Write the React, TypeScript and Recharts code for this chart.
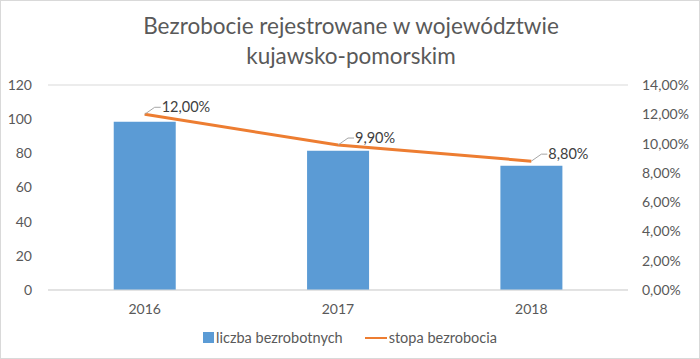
import { ComposedChart, Bar, Line, XAxis, YAxis, CartesianGrid, Legend, LabelList } from 'recharts';

const years = ['2016', '2017', '2018'];
const liczbaBezrobotnych = [98.5, 81.5, 72.8];
const stopaBezrobocia = [12.0, 9.9, 8.8];
const leftTicks = [0, 20, 40, 60, 80, 100, 120];
const rightTicks = [0, 2, 4, 6, 8, 10, 12, 14];

const data = years.map((year, i) => ({
  year,
  liczba: liczbaBezrobotnych[i],
  stopa: stopaBezrobocia[i],
}));

const FONT = 'Lato, "Open Sans", sans-serif';
const TEXT = '#595959';

const pct = (v: number) => v.toFixed(2).replace('.', ',') + '%';

const LineLabel = (props: any) => {
  const { x, y, value } = props;
  return (
    <g>
      <polyline
        points={`${x},${y} ${x + 10},${y - 7} ${x + 16},${y - 7}`}
        fill="none"
        stroke="#a6a6a6"
        strokeWidth={1}
      />
      <text x={x + 17} y={y - 7} dy={5} fill="#404040" fontSize={14.5} fontFamily={FONT}>
        {pct(value)}
      </text>
    </g>
  );
};

const renderLegend = () => (
  <div
    style={{
      display: 'flex',
      justifyContent: 'center',
      alignItems: 'center',
      fontFamily: FONT,
      fontSize: 14.5,
      color: TEXT,
      gap: 22,
      paddingTop: 9,
    }}
  >
    <span style={{ display: 'flex', alignItems: 'center' }}>
      <span style={{ width: 11, height: 11, background: '#5B9BD5', marginRight: 2 }} />
      liczba bezrobotnych
    </span>
    <span style={{ display: 'flex', alignItems: 'center' }}>
      <span style={{ width: 22, height: 2, background: '#ED7D31', marginRight: 2 }} />
      stopa bezrobocia
    </span>
  </div>
);

export default function App() {
  return (
    <div
      style={{
        position: 'absolute',
        left: 0,
        top: 0,
        width: 700,
        height: 359,
        background: '#fff',
        boxSizing: 'border-box',
        border: '1px solid #d9d9d9',
      }}
    >
      <div
        style={{
          position: 'absolute',
          top: 10,
          left: 0,
          width: 700,
          textAlign: 'center',
          fontFamily: FONT,
          fontSize: 22.5,
          lineHeight: '30px',
          color: TEXT,
        }}
      >
        Bezrobocie rejestrowane w województwie
        <br />
        kujawsko-pomorskim
      </div>
      <ComposedChart
        width={698}
        height={357}
        data={data}
        margin={{ top: 84, right: 0, bottom: 6, left: 0 }}
        barCategoryGap="34%"
      >
        <CartesianGrid vertical={false} stroke="#d9d9d9" />
        <XAxis
          dataKey="year"
          axisLine={{ stroke: '#d9d9d9' }}
          tickLine={false}
          tick={{ fill: TEXT, fontSize: 14, fontFamily: FONT }}
          tickMargin={8}
          height={30}
        />
        <YAxis
          yAxisId="left"
          domain={[0, 120]}
          ticks={leftTicks}
          axisLine={false}
          tickLine={false}
          tick={{ fill: TEXT, fontSize: 14, fontFamily: FONT }}
          width={47}
          tickMargin={10}
        />
        <YAxis
          yAxisId="right"
          orientation="right"
          domain={[0, 14]}
          ticks={rightTicks}
          tickFormatter={pct}
          axisLine={false}
          tickLine={false}
          tick={{ fill: TEXT, fontSize: 14, fontFamily: FONT }}
          width={71}
          tickMargin={8}
        />
        <Legend verticalAlign="bottom" height={32} content={renderLegend} />
        <Bar yAxisId="left" dataKey="liczba" name="liczba bezrobotnych" fill="#5B9BD5" isAnimationActive={false} />
        <Line
          yAxisId="right"
          dataKey="stopa"
          name="stopa bezrobocia"
          stroke="#ED7D31"
          strokeWidth={3}
          dot={false}
          type="linear"
          isAnimationActive={false}
        >
          <LabelList dataKey="stopa" content={LineLabel} />
        </Line>
      </ComposedChart>
    </div>
  );
}
